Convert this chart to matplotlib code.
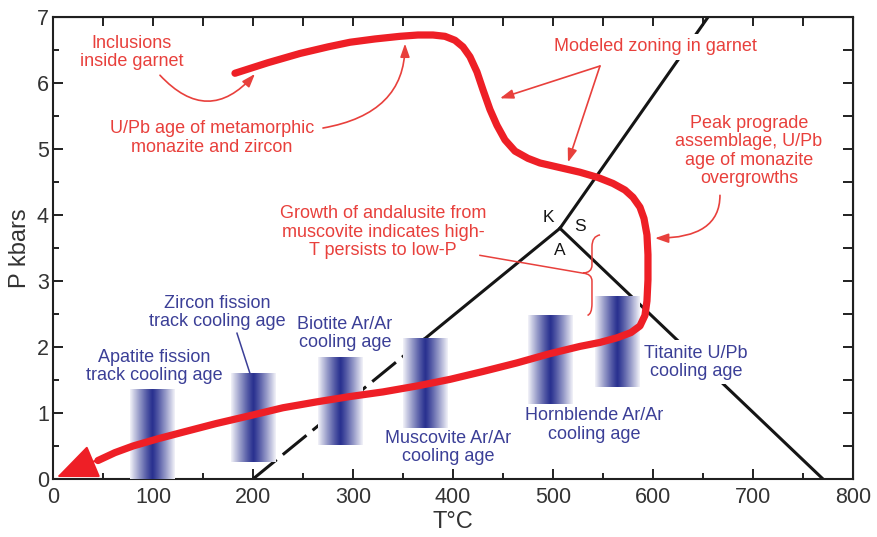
import numpy as np
import matplotlib
matplotlib.use("Agg")
import matplotlib.pyplot as plt
from matplotlib.colors import LinearSegmentedColormap
from matplotlib.path import Path
from matplotlib.patches import PathPatch

# --- Al2SiO5 phase boundaries (T in degC, P in kbar) ---
triple_point = (507, 3.8)
ka_start = (200, 0.0)        # kyanite-andalusite, low-T end
ka_dash_end = 372            # dashed below this temperature
ks_end = (655, 7.0)          # kyanite-sillimanite, high-P end
as_end = (770, 0.0)          # andalusite-sillimanite, low-P end

# --- P-T path ---
path_T = [182, 215, 247, 275, 297, 322, 347, 365, 380, 392, 402, 410, 417, 424,
          430, 437, 444, 452, 462, 475, 487, 507, 527, 545, 560, 572, 580, 587,
          591, 594, 595, 595, 594, 592, 587, 578, 564, 547, 527, 497, 464, 430,
          397, 364, 330, 297, 264, 230, 197, 163, 130, 105, 80, 62, 45]
path_P = [6.15, 6.31, 6.45, 6.55, 6.62, 6.67, 6.71, 6.73, 6.73, 6.71, 6.65, 6.55,
          6.40, 6.17, 5.90, 5.60, 5.36, 5.14, 4.97, 4.86, 4.79, 4.72, 4.65, 4.57,
          4.48, 4.38, 4.27, 4.12, 3.95, 3.70, 3.40, 3.02, 2.70, 2.48, 2.32, 2.22,
          2.14, 2.07, 2.01, 1.90, 1.76, 1.63, 1.51, 1.41, 1.32, 1.25, 1.17, 1.08,
          0.96, 0.84, 0.71, 0.61, 0.50, 0.40, 0.28]
path_tip = (4, 0.03)

# --- closure-temperature bands ---
band_names = ["Apatite fission\ntrack cooling age",
              "Zircon fission\ntrack cooling age",
              "Biotite Ar/Ar\ncooling age",
              "Muscovite Ar/Ar\ncooling age",
              "Hornblende Ar/Ar\ncooling age",
              "Titanite U/Pb\ncooling age"]
band_T = [100, 201, 288, 373, 498, 565]
band_Pmin = [0.0, 0.26, 0.52, 0.77, 1.14, 1.39]
band_Pmax = [1.35, 1.60, 1.85, 2.12, 2.48, 2.76]
band_label_xy = [(101, 1.70), (164, 2.52), (292, 2.21), (395, 0.48), (541, 0.82), (643, 1.77)]

x_ticks = [0, 100, 200, 300, 400, 500, 600, 700, 800]
y_ticks = [0, 1, 2, 3, 4, 5, 6, 7]

RED = "#ee1f26"
RED_TXT = "#e8403c"
NAVY_TXT = "#3b3f97"
NAVY = "#2a3290"
BLACK = "#151515"

plt.rcParams["font.family"] = ["Liberation Sans", "DejaVu Sans"]

fig = plt.figure(figsize=(8.77, 5.37), dpi=100)
ax = fig.add_axes([0.0604, 0.108, 0.9122, 0.860])

# phase boundaries
ka_slope = (triple_point[1] - ka_start[1]) / (triple_point[0] - ka_start[0])
ka_mid_P = ka_start[1] + ka_slope * (ka_dash_end - ka_start[0])
ax.plot([ka_start[0], ka_dash_end], [ka_start[1], ka_mid_P], color=BLACK, lw=2.2,
        ls=(0, (10, 2.6)), zorder=2, solid_capstyle="butt")
ax.plot([ka_dash_end, triple_point[0]], [ka_mid_P, triple_point[1]], color=BLACK,
        lw=2.2, zorder=2)
ax.plot([triple_point[0], ks_end[0]], [triple_point[1], ks_end[1]], color=BLACK,
        lw=2.2, zorder=2)
ax.plot([triple_point[0], as_end[0]], [triple_point[1], as_end[1]], color=BLACK,
        lw=2.2, zorder=2)

for lab, xy in zip(["K", "S", "A"], [(495, 3.97), (527, 3.82), (507, 3.47)]):
    ax.text(*xy, lab, ha="center", va="center", fontsize=12.5, color=BLACK, zorder=6)

# shaded bands: white edges, navy core (symmetric horizontal gradient)
u = np.linspace(-1, 1, 45)
profile = 1 - 0.92 * np.abs(u) ** 1.15
band_img = np.tile(profile, (8, 1))
band_cmap = LinearSegmentedColormap.from_list("band", ["#ffffff", NAVY])
half_w = 22.5
for t, lo, hi in zip(band_T, band_Pmin, band_Pmax):
    ax.imshow(band_img, extent=(t - half_w, t + half_w, lo, hi),
              cmap=band_cmap, vmin=0, vmax=1, aspect="auto",
              interpolation="nearest", origin="lower", zorder=3)

white_box = dict(boxstyle="square,pad=0.25", fc="white", ec="none")
for name, xy in zip(band_names, band_label_xy):
    bb = white_box if name.startswith("Titanite") else None
    ax.text(*xy, name, ha="center", va="center", fontsize=13, color=NAVY_TXT,
            linespacing=1.1, zorder=5, bbox=bb)
ax.plot([184, 197], [2.21, 1.60], color=NAVY_TXT, lw=1.1, zorder=5)

# P-T path
ax.plot(path_T, path_P, color=RED, lw=5.2, solid_capstyle="round",
        solid_joinstyle="round", zorder=7)
ax.annotate("", xy=path_tip, xytext=(path_T[-2], path_P[-2]),
            arrowprops=dict(arrowstyle="-|>,head_length=1.3,head_width=0.55",
                            mutation_scale=20, color=RED, lw=1.5,
                            shrinkA=0, shrinkB=0), zorder=7)

# red annotations
arrow_kw = dict(arrowstyle="-|>,head_length=0.8,head_width=0.28",
                mutation_scale=10, color=RED_TXT, lw=1.2, shrinkA=0, shrinkB=0)

ax.text(79, 6.47, "Inclusions\ninside garnet", ha="center", va="center",
        fontsize=13, color=RED_TXT, linespacing=1.1, zorder=6)
ax.annotate("", xy=(202, 6.14), xytext=(107, 6.12),
            arrowprops=dict(connectionstyle="arc3,rad=0.55", **arrow_kw), zorder=6)

ax.text(159, 5.17, "U/Pb age of metamorphic\nmonazite and zircon", ha="center",
        va="center", fontsize=13, color=RED_TXT, linespacing=1.1, zorder=6)
ax.annotate("", xy=(352, 6.60), xytext=(270, 5.32),
            arrowprops=dict(connectionstyle="angle3,angleA=10,angleB=90", **arrow_kw),
            zorder=6)

ax.text(602, 6.55, "Modeled zoning in garnet", ha="center", va="center",
        fontsize=13, color=RED_TXT, zorder=6, bbox=white_box)
for end in [(447, 5.77), (515, 4.80)]:
    ax.annotate("", xy=end, xytext=(547, 6.26), arrowprops=arrow_kw, zorder=6)

ax.text(696, 4.97, "Peak prograde\nassemblage, U/Pb\nage of monazite\novergrowths",
        ha="center", va="center", fontsize=13, color=RED_TXT, linespacing=1.1,
        zorder=6)
ax.annotate("", xy=(602, 3.65), xytext=(667, 4.30),
            arrowprops=dict(connectionstyle="angle3,angleA=90,angleB=0", **arrow_kw),
            zorder=6)

ax.text(330, 3.74, "Growth of andalusite from\nmuscovite indicates high-\nT persists to low-P",
        ha="center", va="center", fontsize=13, color=RED_TXT, linespacing=1.1,
        zorder=6)
ax.plot([427, 530], [3.39, 3.12], color=RED_TXT, lw=1.1, zorder=6)


def brace(x, y_top, y_bot, y_tip, depth):
    """Left-pointing curly brace drawn with quadratic Bezier segments."""
    verts = [(x + depth * 0.9, y_top),
             (x, y_top - 0.02), (x, y_top - 0.18),
             (x, y_tip + 0.12),
             (x, y_tip + 0.01), (x - depth, y_tip),
             (x, y_tip - 0.01), (x, y_tip - 0.12),
             (x, y_bot + 0.18),
             (x, y_bot + 0.02), (x - depth * 0.5, y_bot)]
    codes = [Path.MOVETO, Path.CURVE3, Path.CURVE3, Path.LINETO,
             Path.CURVE3, Path.CURVE3, Path.CURVE3, Path.CURVE3,
             Path.LINETO, Path.CURVE3, Path.CURVE3]
    return PathPatch(Path(verts, codes), fc="none", ec=RED_TXT, lw=1.1, zorder=6)


ax.add_patch(brace(539, 3.70, 2.48, 3.12, 9))

# axes styling
ax.set_xlim(0, 800)
ax.set_ylim(0, 7)
ax.set_xticks(x_ticks)
ax.set_yticks(y_ticks)
ax.set_xticks(np.arange(50, 800, 100), minor=True)
ax.set_yticks(np.arange(0.5, 7, 1.0), minor=True)
for s in ax.spines.values():
    s.set_linewidth(1.5)
    s.set_color("#202020")
ax.tick_params(which="major", direction="in", length=7, width=1.4, labelsize=15.5,
               labelcolor="#333333", color="#202020")
ax.tick_params(which="minor", direction="in", length=4.5, width=1.4, color="#202020")
ax.tick_params(axis="x", pad=6)
ax.tick_params(axis="y", pad=3)

top = ax.secondary_xaxis("top")
top.set_xticks(np.arange(50, 800, 50))
top.tick_params(direction="in", length=6.5, width=1.4, labeltop=False, color="#202020")
right = ax.secondary_yaxis("right")
right.set_yticks(np.arange(0.5, 7, 0.5))
right.tick_params(direction="in", length=7, width=1.4, labelright=False, color="#202020")

ax.set_xlabel("T°C", fontsize=17, color="#333333", labelpad=2)
ax.set_ylabel("P kbars", fontsize=17, color="#333333", labelpad=4)

fig.savefig("out.png", dpi=100)
